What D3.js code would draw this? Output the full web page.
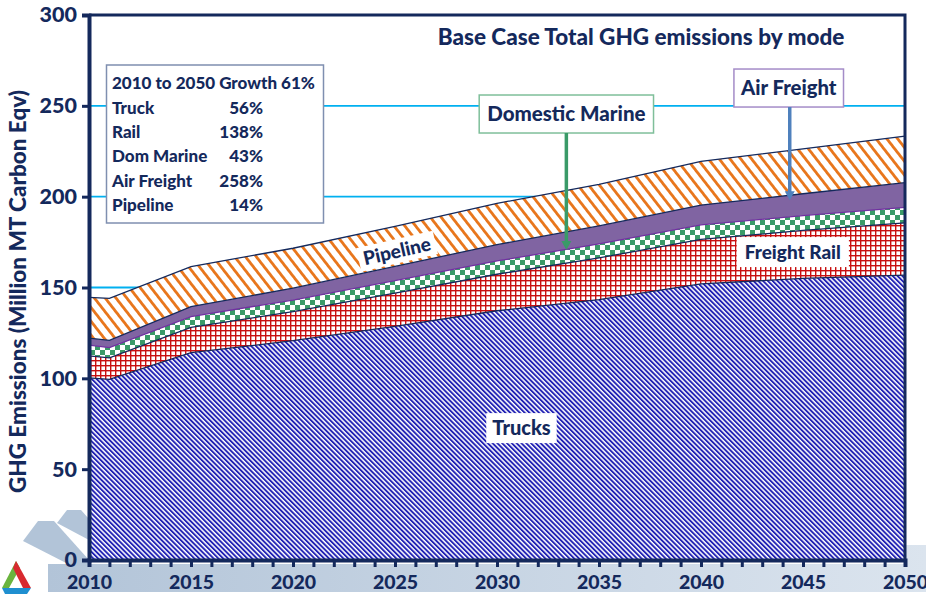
<!DOCTYPE html>
<html lang="en">
<head>
<meta charset="UTF-8">
<title>Base Case Total GHG emissions by mode</title>
<script src="https://cdn.jsdelivr.net/npm/d3@7"></script>
<style>
  body { margin: 0; background: #fff; }
  svg text { font-family: Lato, 'Open Sans', sans-serif; font-weight: 900; fill: #14295c; }
</style>
</head>
<body>
<div class="chart"></div>
<script>
// values (million MT carbon eqv)
const years = [2010, 2011, 2015, 2020, 2025, 2030, 2035, 2040, 2045, 2050]
const trucks = [100.3, 99.4, 114.1, 120.7, 128.6, 137.2, 143.3, 152.0, 155.0, 156.8]
const rail = [12.1, 11.9, 14.0, 16.0, 18.3, 20.1, 23.0, 24.5, 26.4, 28.8]
const marine = [5.9, 5.6, 5.9, 6.4, 6.9, 7.3, 7.7, 8.0, 8.2, 8.5]
const air = [3.8, 4.0, 5.5, 6.5, 7.8, 9.0, 9.9, 10.9, 12.0, 13.6]
const pipeline = [22.5, 23.1, 22.0, 22.0, 22.1, 22.7, 22.9, 24.0, 24.7, 25.6]
const modes = ['trucks', 'rail', 'marine', 'air', 'pipeline']
const yTicks = [0, 50, 100, 150, 200, 250, 300]
const gridTicks = [150, 200, 250]
const xLabels = [2010, 2015, 2020, 2025, 2030, 2035, 2040, 2045, 2050]
const growthNames = ['Truck', 'Rail', 'Dom Marine', 'Air Freight', 'Pipeline']
const growthPct = ['56%', '138%', '43%', '258%', '14%']

const width = 926
const height = 594
const margin = { top: 15, right: 21, bottom: 34, left: 89 }
const navy = '#14295c'

const svg = d3.select('.chart').append('svg')
    .attr('width', width)
    .attr('height', height)

const x = d3.scaleLinear().domain([2010, 2050]).range([margin.left, width - margin.right])
const y = d3.scaleLinear().domain([0, 300]).range([height - margin.bottom, margin.top])

// ---- patterns
const defs = svg.append('defs')
function stripes(id, color, size, w, angle) {
    const p = defs.append('pattern').attr('id', id)
        .attr('patternUnits', 'userSpaceOnUse')
        .attr('width', size).attr('height', size)
        .attr('patternTransform', `rotate(${angle})`)
    p.append('rect').attr('width', size).attr('height', size).attr('fill', '#fff')
    p.append('rect').attr('width', w).attr('height', size).attr('fill', color)
}
stripes('p-trucks', '#2222b4', 3.4, 1.9, -45)
stripes('p-pipe', '#e8761c', 8.5, 2.8, -38)

const grid = defs.append('pattern').attr('id', 'p-rail')
    .attr('patternUnits', 'userSpaceOnUse').attr('width', 5).attr('height', 5)
grid.append('rect').attr('width', 5).attr('height', 5).attr('fill', '#fff')
grid.append('rect').attr('width', 5).attr('height', 1.4).attr('fill', '#c80f0f')
grid.append('rect').attr('width', 1.4).attr('height', 5).attr('fill', '#c80f0f')

const check = defs.append('pattern').attr('id', 'p-marine')
    .attr('patternUnits', 'userSpaceOnUse').attr('width', 10).attr('height', 10)
check.append('rect').attr('width', 10).attr('height', 10).attr('fill', '#fff')
check.append('rect').attr('width', 5).attr('height', 5).attr('fill', '#3a9a68')
check.append('rect').attr('x', 5).attr('y', 5).attr('width', 5).attr('height', 5).attr('fill', '#3a9a68')

const fills = { trucks: 'url(#p-trucks)', rail: 'url(#p-rail)', marine: 'url(#p-marine)', air: '#8064a2', pipeline: 'url(#p-pipe)' }
const edges = { trucks: navy, rail: navy, marine: '#7030a0', air: navy, pipeline: navy }

// ---- background decoration (logo band)
const band = defs.append('linearGradient').attr('id', 'g-band')
band.append('stop').attr('offset', '0%').attr('stop-color', '#b2c4d8')
band.append('stop').attr('offset', '100%').attr('stop-color', '#dbe4ee')
const deco = svg.append('g')
deco.append('path').attr('d', `M48,564 H${width - 21} V545 H${width} V592 H48 Z`).attr('fill', 'url(#g-band)')
deco.append('path').attr('d', 'M23,541 L38,521 L54,521 L89,560 L89,566 L72,566 Z').attr('fill', '#b2c4d8')
deco.append('path').attr('d', 'M57,523 L67,510 L81,510 L89,519 L89,540 Z').attr('fill', '#b2c4d8')
// logo
deco.append('path').attr('d', 'M2,588 L16,561 L20,568 L9,588 Z').attr('fill', '#6ab43e')
deco.append('path').attr('d', 'M16,561 L31,588 L23,588 L13,568 Z').attr('fill', '#d8292f')
deco.append('path').attr('d', 'M2,588 L31,588 L27,594 L5,594 Z').attr('fill', '#1f8fd0')

// ---- plot background + grid
svg.append('rect').attr('x', margin.left).attr('y', margin.top)
    .attr('width', x(2050) - x(2010)).attr('height', y(0) - y(300)).attr('fill', '#fff')
svg.append('g').selectAll('line').data(gridTicks).join('line')
    .attr('x1', x(2010)).attr('x2', x(2050))
    .attr('y1', d => y(d)).attr('y2', d => y(d))
    .attr('stroke', '#00b0f0').attr('stroke-width', 1.8)

// ---- stacked areas
const table = years.map((yr, i) => ({
    year: yr, trucks: trucks[i], rail: rail[i], marine: marine[i], air: air[i], pipeline: pipeline[i]
}))
const series = d3.stack().keys(modes)(table)
const area = d3.area().x(d => x(d.data.year)).y0(d => y(d[0])).y1(d => y(d[1]))
const topLine = d3.line().x(d => x(d.data.year)).y(d => y(d[1]))

svg.append('g').selectAll('path').data(series).join('path')
    .attr('d', area)
    .attr('fill', d => fills[d.key])
svg.append('g').selectAll('path').data(series).join('path')
    .attr('d', topLine)
    .attr('fill', 'none')
    .attr('stroke', d => edges[d.key])
    .attr('stroke-width', 1.3)

// ---- frame and axes
svg.append('path')
    .attr('d', `M${x(2010)},${y(300)} H${x(2050)} V${y(0)}`)
    .attr('fill', 'none').attr('stroke', navy).attr('stroke-width', 3)

const yAxis = svg.append('g')
    .attr('transform', `translate(${x(2010)},0)`)
    .call(d3.axisLeft(y).tickValues(yTicks).tickSize(7).tickPadding(5))
yAxis.select('.domain').attr('stroke', navy).attr('stroke-width', 4)
yAxis.selectAll('.tick line').attr('stroke', navy).attr('stroke-width', 3)
yAxis.selectAll('.tick text').style('font-size', '21.5px').attr('fill', navy)

const xAxis = svg.append('g')
    .attr('transform', `translate(0,${y(0)})`)
    .call(d3.axisBottom(x).tickValues(d3.range(2010, 2051)).tickSize(7).tickPadding(8)
        .tickFormat(d => xLabels.includes(d) ? d : ''))
xAxis.select('.domain').attr('stroke', navy).attr('stroke-width', 4)
xAxis.selectAll('.tick line').attr('stroke', navy).attr('stroke-width', 3)
xAxis.selectAll('.tick text').style('font-size', '19.5px').attr('fill', navy)

svg.append('text')
    .attr('transform', `translate(26,${(y(0) + y(300)) / 2 + 4}) rotate(-90)`)
    .attr('text-anchor', 'middle')
    .style('font-size', '22.5px')
    .text('GHG Emissions (Million MT Carbon Eqv)')

// ---- title
svg.append('text')
    .attr('x', 641).attr('y', 45)
    .attr('text-anchor', 'middle')
    .style('font-size', '22.5px')
    .text('Base Case Total GHG emissions by mode')

// ---- growth box
const box = svg.append('g')
box.append('rect').attr('x', 106.5).attr('y', 65).attr('width', 217).attr('height', 158)
    .attr('fill', '#fff').attr('stroke', '#7f8fb0').attr('stroke-width', 1.5)
box.append('text').attr('x', 112).attr('y', 89).style('font-size', '17px').text('2010 to 2050 Growth 61%')
box.selectAll('.gname').data(growthNames).join('text')
    .attr('class', 'gname')
    .attr('x', 112).attr('y', (d, i) => 113.5 + i * 24.4)
    .style('font-size', '17px')
    .text(d => d)
box.selectAll('.gpct').data(growthPct).join('text')
    .attr('class', 'gpct')
    .attr('x', 263).attr('y', (d, i) => 113.5 + i * 24.4)
    .attr('text-anchor', 'end')
    .style('font-size', '17px')
    .text(d => d)

// ---- in-chart labels
function label(text, cx, cy, size, opts = {}) {
    const g = svg.append('g').attr('transform', `translate(${cx},${cy}) rotate(${opts.angle || 0})`)
    const rect = g.append('rect')
    const t = g.append('text').attr('text-anchor', 'middle').attr('dy', '0.35em')
        .style('font-size', size + 'px').text(text)
    const w = t.node().getComputedTextLength() + (opts.padX || 12) * 2
    const h = opts.h || size + 14
    rect.attr('x', -w / 2).attr('y', -h / 2).attr('width', w).attr('height', h)
        .attr('fill', '#fff')
        .attr('stroke', opts.stroke || 'none').attr('stroke-width', 1.5)
    return cy + h / 2
}
function arrow(xv, fromY, toV, color) {
    const x0 = x(xv), y1 = y(toV)
    svg.append('line').attr('x1', x0).attr('x2', x0).attr('y1', fromY).attr('y2', y1 - 7)
        .attr('stroke', color).attr('stroke-width', 3.5)
    svg.append('path').attr('d', `M${x0 - 5},${y1 - 9} L${x0 + 5},${y1 - 9} L${x0},${y1} Z`).attr('fill', color)
}

label('Trucks', x(2031.2), y(72.6), 20, { padX: 6, h: 30 })
label('Freight Rail', x(2044.5), y(169.5), 19, { padX: 8, h: 30 })
label('Pipeline', x(2025.1), y(170), 19, { angle: -13, padX: 5, h: 24 })

const marineBottom = label('Domestic Marine', x(2033.4), y(245.5), 20.5, { padX: 8, h: 38, stroke: '#7fbf9a' })
arrow(2033.4, marineBottom, 170.6, '#3a9a68')
const airBottom = label('Air Freight', x(2044.3), y(259.8), 20.3, { padX: 7, h: 38, stroke: '#a48cc8' })
arrow(2044.35, airBottom, 198, '#4f81bd')
</script>
</body>
</html>
